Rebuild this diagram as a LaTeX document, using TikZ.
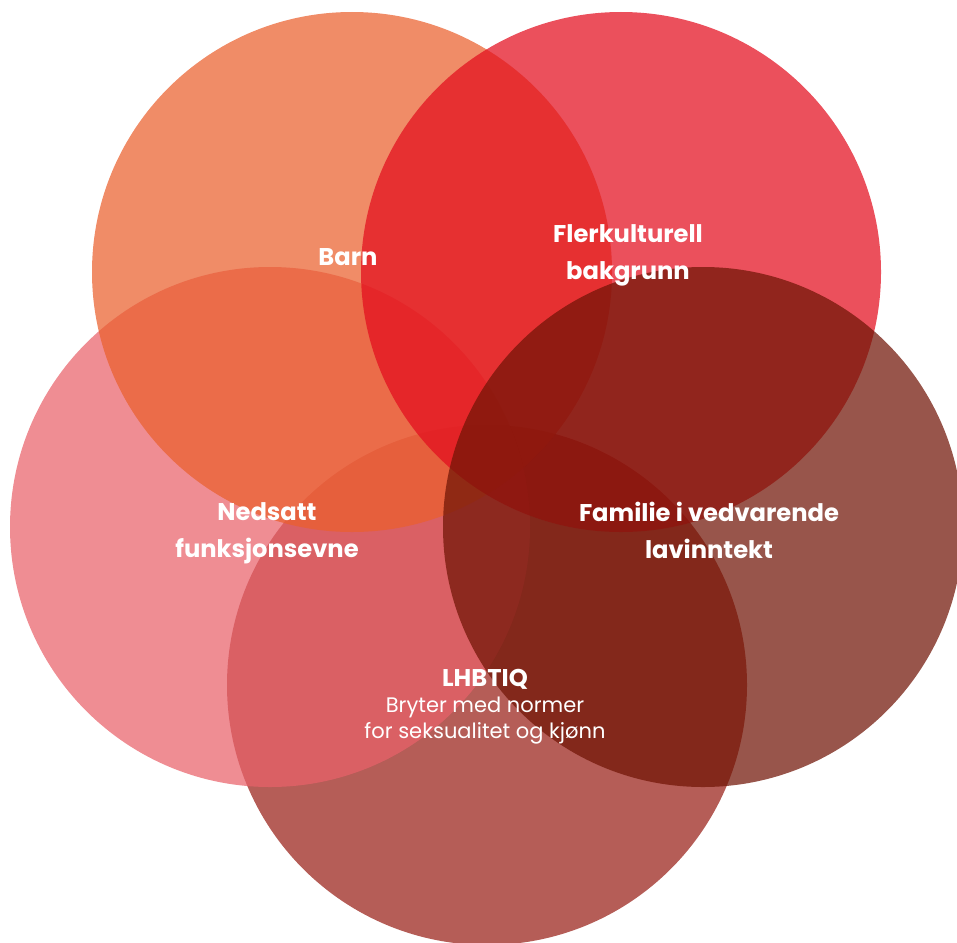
\documentclass[tikz,border=0pt]{standalone}
\usepackage{fontspec}
\setmainfont{Poppins}
\usetikzlibrary{positioning}

\definecolor{barncol}{RGB}{234,95,45}
\definecolor{flerkcol}{RGB}{227,12,29}
\definecolor{nedsattcol}{RGB}{233,97,106}
\definecolor{familiecol}{RGB}{112,20,5}
\definecolor{lhbtiqcol}{RGB}{152,30,22}

\begin{document}
\begin{tikzpicture}[x=1pt, y=-1pt]
        \tikzstyle{venn}=[circle, minimum size=520pt, inner sep=0pt, fill opacity=0.72]
        \tikzstyle{title}=[text=white, align=center, inner sep=0pt, font=\bfseries\fontsize{24.2}{37}\selectfont]
        \tikzstyle{sub}=[text=white, align=center, inner sep=0pt, font=\fontsize{21}{26}\selectfont]

        \useasboundingbox (0,0) rectangle (957,942);

        % circles, bottom one first
        \node[venn, fill=lhbtiqcol]  (L) at (487,685) {};
        \node[venn, fill=nedsattcol] (N) at (270,527) {};
        \node[venn, fill=barncol]    (B) at (352,272) {};
        \node[venn, fill=flerkcol]   (F) at (621,272) {};
        \node[venn, fill=familiecol] (V) at (703,527) {};

        % labels
        \node[title] (Btext) at (348,257) {Barn};
        \node[title] (Ftext) at (628,255) {Flerkulturell\\bakgrunn};
        \node[title] (Ntext) at (267,533) {Nedsatt\\funksjonsevne};
        \node[title] (Vtext) at (709,530) {Familie i vedvarende\\lavinntekt};
        \node[title] (Ltext) at (485,679) {LHBTIQ};
        \node[sub]   (Lsub) [below=7pt of Ltext] {Bryter med normer\\for seksualitet og kjønn};
\end{tikzpicture}
\end{document}
